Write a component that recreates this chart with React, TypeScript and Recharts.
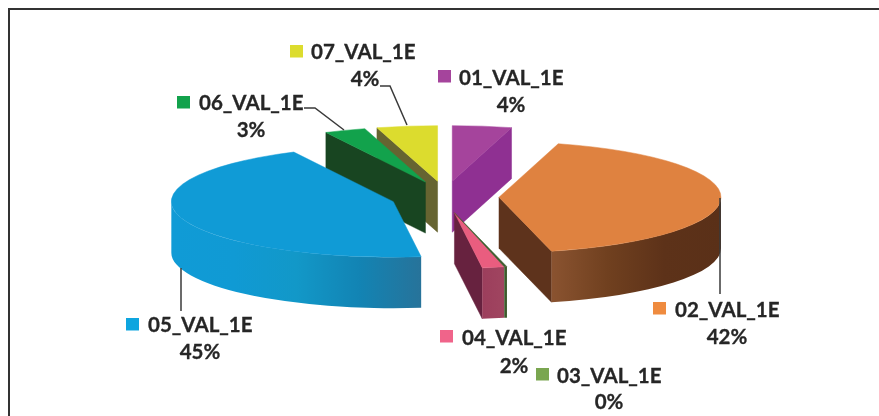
import { PieChart, Pie } from 'recharts';

const names = ['01_VAL_1E', '02_VAL_1E', '03_VAL_1E', '04_VAL_1E', '05_VAL_1E', '06_VAL_1E', '07_VAL_1E'];
// share of the pie; each rounds to the printed label
const shares = [4.3, 41.9, 0.2, 1.6, 44.6, 3, 4.4];

const topColors = ['#a5449c', '#df8240', '#3c5a2c', '#e95d7f', '#109bd6', '#12a24c', '#dcdc2e'];
const cutColors = ['#8f3092', '#5e331c', '#3c5a2c', '#67223f', '#2a7ca5', '#184521', '#666431'];
const markerColors = ['#a5449c', '#ef8b3f', '#7aa650', '#f0648a', '#0ea5df', '#12a24c', '#dcdc2e'];
const wallStops = [
  ['#8f3092', '#8f3092'],
  ['#8a5330', '#70401f', '#5d3219', '#5a3018'],
  ['#3c5a2c', '#3c5a2c'],
  ['#9c3e5c', '#a04560'],
  ['#109bd6', '#109ad4', '#1298c8', '#1284b4', '#27739a'],
  ['#184521', '#184521'],
  ['#666431', '#666431'],
];

// painter's order: slices further back first
const drawOrder = [0, 6, 5, 4, 3, 2, 1];
const tableData = drawOrder.map(i => ({ name: names[i], value: shares[i], index: i }));

const CX = 445;
const CY = 197;
const RX = 222;
const TILT = 0.25;
const DEPTH = 51;
const EXPLODE_X = 54;
const EXPLODE_Y = 16;
const RAD = Math.PI / 180;

function SliceShape(props: any) {
  const { cx, cy, outerRadius, startAngle, endAngle, midAngle, payload } = props;
  const i = payload.index;
  const rx = outerRadius;
  const ry = outerRadius * TILT;
  const sweep = endAngle - startAngle;
  // the 0% sliver moves out with its neighbour 04, so it hugs that slice's edge
  const explodeAngle = sweep < 1 ? startAngle - (shares[i + 1] / 100) * 180 : midAngle;
  const ax = cx + Math.cos(explodeAngle * RAD) * EXPLODE_X;
  const ay = cy - Math.sin(explodeAngle * RAD) * EXPLODE_Y;
  const pt = (a: number) => [ax + rx * Math.cos(a * RAD), ay - ry * Math.sin(a * RAD)];
  const [sx, sy] = pt(startAngle);
  const [ex, ey] = pt(endAngle);
  const large = sweep > 180 ? 1 : 0;
  const top = `M${ax},${ay} L${sx},${sy} A${rx},${ry} 0 ${large} 0 ${ex},${ey} Z`;

  // a cut face shows only when "down" points away from the slice interior
  const [mx, my] = [Math.cos(midAngle * RAD), -Math.sin(midAngle * RAD) * TILT];
  const cuts = sweep < 1
    ? []
    : [[sx, sy], [ex, ey]]
        .filter(([x, y]) => {
          const vx = x - ax;
          const vy = y - ay;
          return (vx * my - vy * mx) * vx < 0;
        })
        .map(([x, y]) => `M${ax},${ay} L${x},${y} L${x},${y + DEPTH} L${ax},${ay + DEPTH} Z`);

  const lo = Math.max(startAngle, 180);
  const hi = Math.min(endAngle, 360);
  let wall = null;
  if (hi > lo) {
    const [lx, ly] = pt(lo);
    const [hx, hy] = pt(hi);
    wall = `M${lx},${ly} A${rx},${ry} 0 0 0 ${hx},${hy} L${hx},${hy + DEPTH} A${rx},${ry} 0 0 1 ${lx},${ly + DEPTH} Z`;
  }
  const stops = wallStops[i];
  const gradId = `wall-${i}`;
  return (
    <g>
      <defs>
        <linearGradient id={gradId} x1="0" y1="0" x2="1" y2="0">
          {stops.map((c, k) => (
            <stop key={k} offset={k / (stops.length - 1)} stopColor={c} />
          ))}
        </linearGradient>
      </defs>
      {cuts.map((d, k) => (
        <path key={k} d={d} fill={cutColors[i]} stroke={cutColors[i]} strokeWidth={0.5} />
      ))}
      {wall && <path d={wall} fill={`url(#${gradId})`} />}
      <path d={top} fill={topColors[i]} stroke={topColors[i]} strokeWidth={0.5} />
    </g>
  );
}

// annotation layout, by series name: marker corner, name start, share centre, baselines
const labelPlaces: Record<string, any> = {
  '01_VAL_1E': { mx: 438, my: 70, tx: 459, ty: 85, px: 511, py: 112 },
  '02_VAL_1E': { mx: 653, my: 302, tx: 675, ty: 317, px: 727, py: 344, leader: '720,198 720,294' },
  '03_VAL_1E': { mx: 536, my: 368, tx: 557, ty: 383, px: 609, py: 409 },
  '04_VAL_1E': { mx: 440, my: 330, tx: 462, ty: 345, px: 514, py: 373 },
  '05_VAL_1E': { mx: 126, my: 318, tx: 148, ty: 332, px: 200, py: 359, leader: '181,268 181,311' },
  '06_VAL_1E': { mx: 177, my: 96, tx: 199, ty: 110, px: 251, py: 137, leader: '304,108 315,108 344,130' },
  '07_VAL_1E': { mx: 290, my: 45, tx: 311, ty: 59, px: 365, py: 86, leader: '380,86 390,86 407,125' },
};

const textStyle = { fontFamily: 'Lato, sans-serif', fontWeight: 700, fontSize: 20.5, fill: '#262626', stroke: '#262626', strokeWidth: 0.3 };

function SliceLabel(props: any) {
  const name = props.name;
  const place = labelPlaces[name];
  const i = names.indexOf(name);
  return (
    <g>
      {place.leader && <polyline points={place.leader} fill="none" stroke="#3a3a3a" strokeWidth={1.5} />}
      <rect x={place.mx} y={place.my} width={13} height={12.5} fill={markerColors[i]} />
      <text x={place.tx} y={place.ty} {...textStyle}>{name}</text>
      <text x={place.px} y={place.py} textAnchor="middle" {...textStyle}>{Math.round(shares[i])}%</text>
    </g>
  );
}

export default function App() {
  const start = 90 - (shares[0] / 100) * 360;
  return (
    <div style={{ position: 'absolute', left: 0, top: 0, width: 879, height: 416, background: '#fff', overflow: 'hidden', filter: 'blur(0.4px)' }}>
      <div style={{ position: 'absolute', left: 8, top: 8, width: 871, height: 408, borderTop: '2px solid #333', borderLeft: '2px solid #333', boxSizing: 'border-box' }} />
      <div style={{ position: 'absolute', left: 0, top: 0 }}>
        <PieChart width={879} height={416} margin={{ top: 0, right: 0, bottom: 0, left: 0 }}>
          <Pie
            data={tableData}
            dataKey="value"
            nameKey="name"
            cx={CX}
            cy={CY}
            innerRadius={0}
            outerRadius={RX}
            startAngle={start}
            endAngle={start + 360}
            stroke="none"
            shape={SliceShape}
            label={SliceLabel}
            labelLine={false}
            isAnimationActive={false}
          />
        </PieChart>
      </div>
    </div>
  );
}
